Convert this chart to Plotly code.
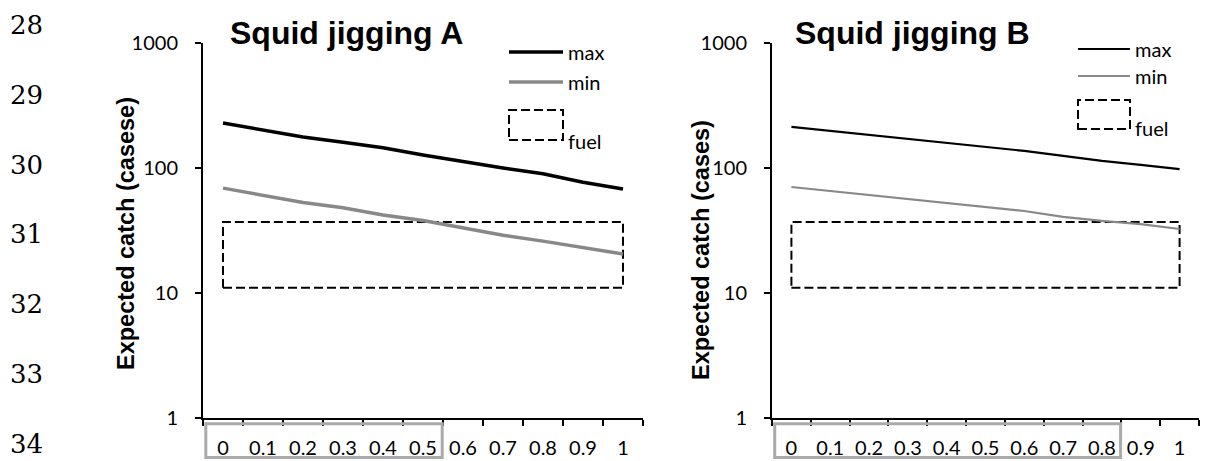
import plotly.graph_objects as go

# ---- data -------------------------------------------------------------
x_labels = ["0", "0.1", "0.2", "0.3", "0.4", "0.5", "0.6", "0.7", "0.8", "0.9", "1"]

max_A = [229, 201, 177, 161, 145, 127, 112, 100, 90, 77, 68]
min_A = [69, 60, 53, 48, 42, 38, 33, 29, 26, 23, 20.5]

max_B = [213, 198, 182, 171, 158, 147, 137, 125, 114, 106, 98]
min_B = [70.5, 65.5, 61, 56.5, 52.5, 48.8, 45.3, 40.6, 37.7, 35.6, 32.5]

fuel_low = 11
fuel_high = 37

titles = ["Squid jigging A", "Squid jigging B"]
y_titles = ["Expected catch (casese)", "Expected catch (cases)"]
highlight_last = ["0.5", "0.8"]          # last label inside the grey frame
y_ticks = [1, 10, 100, 1000]
line_numbers = ["28", "29", "30", "31", "32", "33", "34"]

# ---- page geometry (pixels) -------------------------------------------
W, H = 1216, 461


def px(x):
    return x / W


def py(y):
    return 1 - y / H


TICK_FONT = dict(family="Lato, Open Sans, sans-serif", size=20, color="black")
BLACK = "#000000"
GREY = "#888888"

fig = go.Figure()

panels = [
    dict(xa="x", ya="y", maxv=max_A, minv=min_A, lw=3.5),
    dict(xa="x2", ya="y2", maxv=max_B, minv=min_B, lw=2.2),
]

for p in panels:
    # fuel band drawn as a dashed closed outline
    fig.add_trace(go.Scatter(
        x=[x_labels[0], x_labels[-1], x_labels[-1], x_labels[0], x_labels[0]],
        y=[fuel_low, fuel_low, fuel_high, fuel_high, fuel_low],
        mode="lines", line=dict(color=BLACK, width=2, dash="9px,4px"),
        xaxis=p["xa"], yaxis=p["ya"], showlegend=False, hoverinfo="skip"))
    fig.add_trace(go.Scatter(
        x=x_labels, y=p["minv"], mode="lines",
        line=dict(color=GREY, width=p["lw"]),
        xaxis=p["xa"], yaxis=p["ya"], showlegend=False, name="min"))
    fig.add_trace(go.Scatter(
        x=x_labels, y=p["maxv"], mode="lines",
        line=dict(color=BLACK, width=p["lw"]),
        xaxis=p["xa"], yaxis=p["ya"], showlegend=False, name="max"))

ydom = [py(418), py(43)]

axis_common = dict(
    showline=True, linewidth=2, linecolor=BLACK,
    ticks="outside", ticklen=6, tickwidth=2, tickcolor=BLACK,
    showgrid=False, zeroline=False, tickfont=TICK_FONT, automargin=False,
)

xaxis_common = dict(axis_common, type="category", categoryorder="array",
                    categoryarray=x_labels, range=[-0.5, 10.5],
                    tickson="boundaries", ticklabelstandoff=11)
yaxis_common = dict(axis_common, type="log", range=[0, 3],
                    tickvals=y_ticks, ticktext=[str(v) for v in y_ticks],
                    ticklabelstandoff=13)

fig.update_layout(
    width=W, height=H,
    margin=dict(l=0, r=0, t=0, b=0),
    template="none",
    paper_bgcolor="white", plot_bgcolor="white",
    showlegend=False,
    xaxis=dict(xaxis_common, domain=[px(203), px(643)], anchor="y"),
    yaxis=dict(yaxis_common, domain=ydom, anchor="x"),
    xaxis2=dict(xaxis_common, domain=[px(772), px(1199)], anchor="y2"),
    yaxis2=dict(yaxis_common, domain=ydom, anchor="x2"),
)

annotations = []
shapes = []

# panel titles
for title, x0 in zip(titles, [228, 793]):
    annotations.append(dict(
        text=title, x=px(x0), y=py(33), xref="paper", yref="paper",
        xanchor="left", yanchor="middle", showarrow=False,
        font=dict(family="Liberation Sans, Arial, sans-serif", size=32,
                  color=BLACK, weight="bold")))

# vertical axis titles
for text, xc, yc in zip(y_titles, [126, 701], [234, 250]):
    annotations.append(dict(
        text=text, x=px(xc), y=py(yc), xref="paper", yref="paper",
        xanchor="center", yanchor="middle", textangle=-90, showarrow=False,
        font=dict(family="Liberation Sans, Arial, sans-serif",
                  size=23.5, color=BLACK, weight="bold")))

# legends
LEG_FONT = dict(family="Lato, Open Sans, sans-serif", size=20, color=BLACK)
legend_geo = [
    dict(x0=509, x1=563, ymax=52, ymin=82, fb=(110, 140), fuel_y=141, lw=3.5),
    dict(x0=1078, x1=1130, ymax=49, ymin=76, fb=(100, 129), fuel_y=128, lw=2.2),
]
for g in legend_geo:
    for label, color, yy in [("max", BLACK, g["ymax"]), ("min", GREY, g["ymin"])]:
        shapes.append(dict(type="line", xref="paper", yref="paper",
                           x0=px(g["x0"]), x1=px(g["x1"]), y0=py(yy), y1=py(yy),
                           line=dict(color=color, width=g["lw"])))
        annotations.append(dict(text=label, x=px(g["x1"] + 3), y=py(yy),
                                xref="paper", yref="paper", xanchor="left",
                                yanchor="middle", showarrow=False, font=LEG_FONT))
    shapes.append(dict(type="rect", xref="paper", yref="paper",
                       x0=px(g["x0"]), x1=px(g["x1"]),
                       y0=py(g["fb"][1]), y1=py(g["fb"][0]),
                       line=dict(color=BLACK, width=2, dash="9px,4px")))
    annotations.append(dict(text="fuel", x=px(g["x1"] + 3), y=py(g["fuel_y"]),
                            xref="paper", yref="paper", xanchor="left",
                            yanchor="middle", showarrow=False, font=LEG_FONT))

# grey frames around part of the x tick labels
for xa, ya, last in zip(["x", "x2"], ["y", "y2"], highlight_last):
    idx = x_labels.index(last)
    shapes.append(dict(type="rect", xref=xa, yref=f"{ya} domain",
                       x0=-0.43, x1=idx + 0.48, y0=-0.015, y1=-0.105,
                       line=dict(color="#aaaaaa", width=3)))

# manuscript line numbers down the left margin
for i, num in enumerate(line_numbers):
    annotations.append(dict(text=num, x=px(26), y=py(25 + i * 69.8),
                            xref="paper", yref="paper", xanchor="center",
                            yanchor="middle", showarrow=False,
                            font=dict(family="DejaVu Serif, serif", size=26,
                                      color=BLACK)))

fig.update_layout(annotations=annotations, shapes=shapes)

fig.write_html("out.html")
